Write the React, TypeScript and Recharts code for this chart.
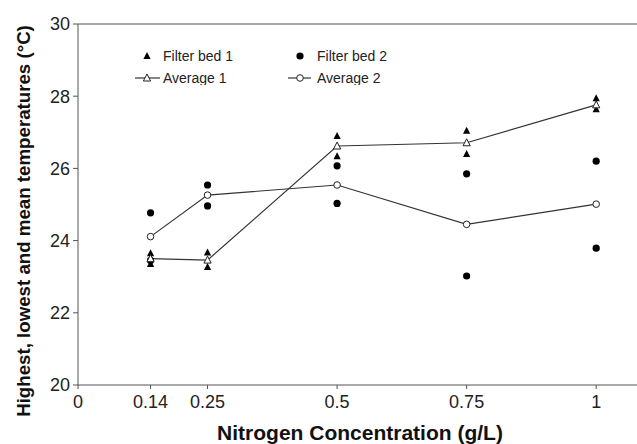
import { ComposedChart, Line, Scatter, XAxis, YAxis, ReferenceLine } from 'recharts';

const concentrations = [0.14, 0.25, 0.5, 0.75, 1];
const xTicks = [0, 0.14, 0.25, 0.5, 0.75, 1];
const yTicks = [20, 22, 24, 26, 28, 30];

// highest / lowest readings per filter bed
const bed1High = [23.65, 23.67, 26.9, 27.04, 27.94];
const bed1Low = [23.35, 23.27, 26.34, 26.4, 27.64];
const bed2High = [24.77, 25.54, 26.07, 25.85, 26.2];
const bed2Low = [23.45, 24.96, 25.03, 23.02, 23.79];

// means
const average1 = [23.5, 23.46, 26.62, 26.71, 27.76];
const average2 = [24.11, 25.26, 25.54, 24.45, 25.01];

const toPoints = (vals: number[]) => concentrations.map((x, i) => ({ x, y: vals[i] }));
const bed1Points = [...toPoints(bed1High), ...toPoints(bed1Low)];
const bed2Points = [...toPoints(bed2High), ...toPoints(bed2Low)];
const avg1Points = toPoints(average1);
const avg2Points = toPoints(average2);

const FONT = '"Liberation Sans", Arial, Helvetica, sans-serif';
const AXIS = '#555';
const LINE = '#333';

const triPath = (cx: number, cy: number) =>
  `${cx},${cy - 4} ${cx - 3.6},${cy + 3} ${cx + 3.6},${cy + 3}`;

const FilledTriangle = (props: any) => <polygon points={triPath(props.cx, props.cy)} fill="#000" />;
const FilledCircle = (props: any) => <circle cx={props.cx} cy={props.cy} r={3.6} fill="#000" />;
const OpenTriangle = (props: any) => (
  <polygon points={triPath(props.cx, props.cy)} fill="#fff" stroke="#222" strokeWidth={1} />
);
const OpenCircle = (props: any) => (
  <circle cx={props.cx} cy={props.cy} r={3.3} fill="#fff" stroke="#222" strokeWidth={1} />
);

const LegendBox = () => (
  <svg width={300} height={40} style={{ position: 'absolute', left: 125, top: 45 }}>
    <g fontFamily={FONT} fontSize={14} fill="#222">
      <FilledTriangle cx={22} cy={11} />
      <text x={38} y={16}>Filter bed 1</text>
      <FilledCircle cx={175} cy={11} />
      <text x={192} y={16}>Filter bed 2</text>
      <line x1={10} x2={35} y1={33} y2={33} stroke={LINE} strokeWidth={1.2} />
      <OpenTriangle cx={22} cy={33} />
      <text x={38} y={38}>Average 1</text>
      <line x1={163} x2={186} y1={33} y2={33} stroke={LINE} strokeWidth={1.2} />
      <OpenCircle cx={175} cy={33} />
      <text x={192} y={38}>Average 2</text>
    </g>
  </svg>
);

export default function App() {
  return (
    <div style={{ position: 'absolute', left: 0, top: 0, width: 637, height: 444, overflow: 'hidden', background: '#fff' }}>
      <ComposedChart width={648} height={444} margin={{ top: 24, right: 0, bottom: 0, left: 0 }}>
        <XAxis
          dataKey="x"
          type="number"
          domain={[0, 1.1]}
          ticks={xTicks}
          allowDuplicatedCategory={false}
          height={59}
          stroke={AXIS}
          tickSize={4}
          tickMargin={6}
          tick={{ fill: '#222', fontSize: 18, fontFamily: FONT }}
          label={{
            content: () => (
              <text x={360} y={440} textAnchor="middle" fontFamily={FONT} fontSize={21} fontWeight="bold" fill="#111">
                Nitrogen Concentration (g/L)
              </text>
            ),
          }}
        />
        <YAxis
          dataKey="y"
          type="number"
          domain={[20, 30]}
          ticks={yTicks}
          width={78}
          stroke={AXIS}
          tickSize={5}
          tickMargin={3}
          tick={{ fill: '#222', fontSize: 18, fontFamily: FONT }}
          label={{
            content: () => (
              <text
                x={30}
                y={221}
                transform="rotate(-90 30 221)"
                textAnchor="middle"
                fontFamily={FONT}
                fontSize={18.7}
                fontWeight="bold"
                fill="#111"
              >
                Highest, lowest and mean temperatures (°C)
              </text>
            ),
          }}
        />
        <ReferenceLine y={30} stroke={AXIS} strokeWidth={1} />
        <Scatter name="Filter bed 1" data={bed1Points} dataKey="y" shape={<FilledTriangle />} isAnimationActive={false} />
        <Scatter name="Filter bed 2" data={bed2Points} dataKey="y" shape={<FilledCircle />} isAnimationActive={false} />
        <Line
          name="Average 1"
          data={avg1Points}
          dataKey="y"
          type="linear"
          stroke={LINE}
          strokeWidth={1.2}
          dot={(p: any) => <OpenTriangle key={`a1-${p.index}`} cx={p.cx} cy={p.cy} />}
          activeDot={false}
          isAnimationActive={false}
        />
        <Line
          name="Average 2"
          data={avg2Points}
          dataKey="y"
          type="linear"
          stroke={LINE}
          strokeWidth={1.2}
          dot={(p: any) => <OpenCircle key={`a2-${p.index}`} cx={p.cx} cy={p.cy} />}
          activeDot={false}
          isAnimationActive={false}
        />
      </ComposedChart>
      <LegendBox />
    </div>
  );
}
